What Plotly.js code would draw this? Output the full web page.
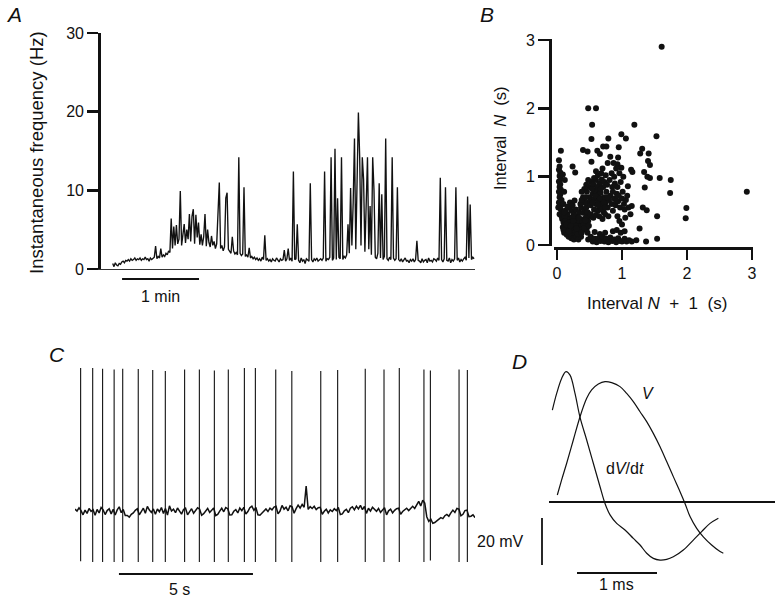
<!DOCTYPE html>
<html>
<head>
<meta charset="utf-8">
<script src="https://cdn.plot.ly/plotly-3.0.1.min.js"></script>
<style>html,body{margin:0;padding:0;background:#fff}#chart{width:779px;height:602px}</style>
</head>
<body>
<div id="chart"></div>
<script>
// ---------- Panel A: instantaneous frequency (Hz), one sample per second from t = 9 s ----------
const freqStartA = 9;
const freqStepA = 1;
const freqA = [
  0.7,0.3,0.8,0.5,0.4,0.7,0.6,0.9,1.0,0.8,1.1,
  1.0,1.2,1.0,1.3,1.1,1.2,1.4,1.1,1.3,1.2,
  1.4,1.1,1.3,1.2,1.5,1.2,1.3,1.0,1.4,1.2,
  1.3,1.5,2.9,1.3,1.6,1.4,2.6,1.5,1.8,1.6,
  2.0,1.8,2.3,2.1,6.4,2.6,5.4,3.0,5.6,3.2,
  3.8,9.9,3.0,4.2,5.7,3.3,5.0,3.8,7.0,3.5,
  6.7,7.6,3.2,6.9,4.0,5.9,3.1,4.4,3.0,4.1,
  7.0,2.9,5.0,3.4,2.8,4.2,3.0,3.5,2.6,3.2,
  7.3,11.0,2.6,3.0,2.3,2.8,9.0,9.7,2.5,2.2,
  2.0,4.1,2.3,1.9,2.1,1.8,14.2,2.0,1.7,1.9,
  10.4,1.6,1.8,1.5,2.7,1.4,1.6,1.3,1.5,1.2,
  1.4,1.1,1.3,1.0,1.5,1.2,4.3,1.1,1.3,1.0,
  1.2,0.9,1.3,1.1,1.0,1.4,1.2,0.9,1.3,1.1,
  1.2,2.4,1.0,1.3,2.6,1.1,1.4,1.0,12.4,1.2,
  1.3,5.7,1.1,0.8,1.4,1.0,1.2,0.7,1.3,1.1,
  1.0,10.9,1.2,0.9,1.3,1.1,1.4,1.0,1.2,1.3,
  1.1,1.4,12.4,1.0,1.3,1.2,1.5,14.2,1.1,1.4,
  15.3,1.2,9.0,1.5,1.3,14.2,1.2,1.6,1.4,1.8,
  5.7,2.0,10.3,3.0,8.5,16.6,2.5,9.8,19.9,14.2,
  3.0,14.2,11.4,2.2,9.0,14.2,2.5,8.0,1.8,14.2,
  10.0,1.5,1.3,2.0,10.9,1.4,9.5,1.2,1.6,16.6,
  1.3,1.1,1.5,1.2,14.2,1.4,1.1,1.3,10.4,1.2,
  1.0,1.3,0.9,1.2,1.4,1.0,1.1,0.8,1.2,1.0,
  1.3,0.9,1.2,3.6,1.1,1.0,0.8,1.3,0.9,1.1,
  1.2,0.8,1.4,1.0,1.1,0.9,1.3,1.2,1.0,1.4,
  1.1,11.6,1.2,0.9,1.3,10.4,1.1,1.0,1.4,0.8,
  1.2,1.0,1.3,10.4,1.1,1.4,0.9,1.2,1.0,1.3,
  1.5,1.1,9.2,1.4,8.2,1.2,1.5,1.3
];
const freqTicksA = [0, 10, 20, 30];

// ---------- Panel B: [interval N+1 (s), interval N (s)] ----------
const intervalPairs = [
  [1.61,2.90],[2.92,0.78],[1.99,0.54],[1.98,0.39],[1.75,0.95],[1.74,0.76],[1.58,0.98],[1.54,0.42],[1.54,0.09],
  [1.53,1.59],[1.19,1.76],[0.99,1.62],[1.06,1.56],[0.48,2.0],[0.60,2.0],[0.54,1.76],[0.53,1.55],[0.40,1.39],
  [0.47,1.37],[0.62,1.38],[0.66,1.33],[0.71,1.44],[0.76,1.44],[0.79,1.56],[0.95,1.43],[0.94,1.28],[0.82,1.29],
  [1.31,1.41],[1.28,1.34],[1.41,1.34],[1.43,1.17],[1.34,1.07],[1.39,1.0],[1.35,0.84],[1.43,0.98],[1.16,1.07],
  [1.09,0.86],[1.15,0.57],[1.32,0.55],[1.38,0.51],[1.27,0.24],[1.22,0.07],[1.37,0.05],[0.06,1.38],[0.53,1.22],
  [0.78,1.20],[0.93,1.18],[1.40,1.23],[1.14,1.10],[0.24,1.15],[0.28,1.06],[0.87,1.20],[0.99,1.13],[0.91,1.12],
  [0.03,1.24],[0.04,1.15],[0.03,1.10],[0.05,1.06],[0.04,1.01],[0.06,0.97],[0.03,0.93],[0.05,0.89],[0.04,0.85],
  [0.06,0.81],[0.03,0.78],[0.05,0.74],[0.04,0.70],[0.07,0.66],[0.03,0.62],[0.05,0.58],[0.02,0.55],[0.06,0.52],
  [0.08,0.48],[0.04,0.45],[0.07,0.42],[0.10,0.60],[0.11,0.78],[0.12,0.95],[0.09,1.03],
  [0.08,0.38],[0.10,0.33],[0.12,0.28],[0.14,0.22],[0.11,0.18],[0.15,0.15],[0.17,0.30],[0.19,0.25],[0.20,0.40],
  [0.22,0.33],[0.24,0.28],[0.21,0.20],[0.25,0.15],[0.27,0.22],[0.28,0.36],[0.30,0.30],[0.31,0.42],[0.33,0.25],
  [0.35,0.18],[0.36,0.34],[0.38,0.28],[0.40,0.22],[0.42,0.38],[0.44,0.30],[0.46,0.25],[0.48,0.35],[0.50,0.42],
  [0.16,0.45],[0.13,0.50],[0.18,0.55],[0.22,0.50],[0.26,0.45],[0.29,0.52],[0.34,0.48],[0.37,0.55],[0.40,0.47],
  [0.43,0.52],[0.15,0.38],[0.18,0.12],[0.22,0.10],[0.26,0.08],[0.30,0.12],[0.33,0.08],[0.37,0.12],[0.12,0.42],
  [0.09,0.26],[0.13,0.35],[0.16,0.27],[0.19,0.33],[0.23,0.24],[0.26,0.31],[0.29,0.20],[0.32,0.35],[0.35,0.27],
  [0.39,0.35],[0.41,0.29],[0.45,0.42],[0.47,0.18],[0.24,0.40],[0.20,0.17],[0.28,0.28],[0.32,0.16],[0.36,0.22],
  [0.10,0.22],[0.14,0.30],[0.18,0.20],[0.21,0.28],[0.25,0.35],[0.30,0.24],[0.34,0.40],[0.38,0.18],[0.42,0.25],
  [0.44,0.36],[0.49,0.28],[0.11,0.48],[0.16,0.56],[0.20,0.62],[0.24,0.58],[0.27,0.65],
  [0.45,0.55],[0.48,0.62],[0.50,0.70],[0.52,0.58],[0.54,0.65],[0.55,0.75],[0.57,0.52],[0.58,0.68],[0.60,0.60],
  [0.61,0.80],[0.62,0.72],[0.63,0.50],[0.64,0.64],[0.66,0.56],[0.67,0.76],[0.68,0.68],[0.70,0.60],[0.71,0.85],
  [0.72,0.48],[0.73,0.70],[0.75,0.62],[0.76,0.78],[0.78,0.55],[0.80,0.66],[0.82,0.72],[0.84,0.60],[0.86,0.50],
  [0.88,0.68],[0.90,0.58],[0.92,0.75],[0.94,0.64],[0.97,0.55],[1.00,0.68],[1.03,0.60],[1.06,0.66],[1.10,0.55],
  [0.42,0.62],[0.40,0.70],[0.46,0.78],[0.50,0.85],[0.53,0.92],[0.56,0.88],[0.60,0.95],[0.65,0.90],[0.69,0.96],
  [0.73,0.92],[0.77,0.88],[0.81,0.95],[0.85,0.85],[0.89,0.90],[0.93,0.85],[0.98,0.92],[0.36,0.60],[0.38,0.66],
  [0.44,0.70],[0.47,0.48],[0.52,0.45],[0.56,0.40],[0.60,0.44],[0.65,0.42],[0.70,0.38],[0.74,0.45],[0.79,0.42],
  [0.55,0.62],[0.59,0.72],[0.63,0.58],[0.66,0.68],[0.69,0.52],[0.72,0.62],[0.74,0.55],[0.77,0.70],[0.62,0.85],
  [0.58,0.80],[0.54,0.82],[0.67,0.82],[0.86,0.78],[0.91,0.65],[0.95,0.72],[1.01,0.78],[1.04,0.52],[1.08,0.72],
  [0.57,0.98],[0.63,1.02],[0.68,1.05],[0.60,1.08],[0.75,1.02],[0.70,1.12],[0.84,1.05],[0.96,1.05],[1.02,1.00],
  [0.88,1.0],[0.45,0.88],[0.48,0.95],[0.42,0.82],[0.38,0.78],
  [0.48,0.08],[0.52,0.12],[0.55,0.05],[0.58,0.09],[0.61,0.04],[0.64,0.10],[0.67,0.06],[0.70,0.12],[0.73,0.05],
  [0.76,0.09],[0.79,0.04],[0.82,0.11],[0.85,0.06],[0.88,0.08],[0.91,0.04],[0.94,0.10],[0.97,0.06],[1.00,0.05],
  [1.04,0.09],[1.07,0.05],[1.11,0.07],[1.15,0.05],[0.86,0.20],[0.92,0.22],[0.98,0.18],[1.04,0.20],[0.74,0.18],
  [0.66,0.16],[0.58,0.19],[0.96,0.35],[1.00,0.30],[0.93,0.42],[1.05,0.40],[1.13,0.45]
];
const intervalTicksB = [0, 1, 2, 3];

// ---------- Panel C: membrane voltage (mV, relative) ----------
// baseline noise, 0.075 s per sample
const voltStartC = 0;
const voltStepC = 0.075;
const voltC = [
  1.2,0.4,1.8,0.6,-1.2,0.8,-0.6,1.5,0.3,1.0,
  -1.4,1.1,-0.4,1.9,0.9,-1.1,0.6,1.4,-0.8,1.2,
  -1.3,0.9,2.2,-0.3,1.1,-1.5,-1.5,-2.2,-1.0,-0.4,
  0.7,1.4,-1.2,0.2,1.6,-0.5,2.4,0.8,-0.2,1.3,
  -1.0,1.3,0.1,1.9,-0.6,1.5,-1.3,2.6,0.4,1.2,
  -0.3,1.7,0.5,-0.9,1.1,1.6,-1.2,0.3,1.4,-0.5,
  0.9,1.8,1.2,-1.4,-0.7,0.6,1.5,-0.2,0.8,1.7,
  -1.5,-1.0,0.4,1.6,0.1,1.9,1.4,-1.3,-1.2,0.3,
  1.0,-0.4,1.7,0.6,2.0,-0.9,0.2,1.8,2.5,0.7,
  1.9,-1.2,-1.4,-0.6,0.5,1.3,0.2,1.6,0.9,2.1,
  2.4,-0.8,0.4,2.8,1.2,2.0,0.5,2.6,2.2,-0.5,
  1.4,2.9,1.7,3.2,2.0,11.0,1.1,2.3,1.5,2.4,
  1.0,1.8,2.0,-1.0,0.3,1.2,-0.4,0.9,0.2,1.4,
  0.6,1.9,-1.1,-0.8,0.5,1.1,-0.3,1.6,2.2,0.9,
  2.5,1.3,2.8,1.0,2.4,-0.6,1.6,0.4,2.0,1.1,
  0.3,1.5,-0.2,0.8,1.8,-1.2,0.5,1.2,-0.4,0.7,
  1.4,1.6,-1.0,0.2,0.9,1.6,0.6,1.3,2.4,1.5,
  3.2,4.5,2.6,5.0,3.8,-2.0,-4.0,-3.0,-4.8,-4.5,
  -3.8,-3.2,-2.4,-2.8,-1.6,-1.0,-1.8,-0.4,0.8,-0.2,
  1.5,1.2,-1.6,-1.0,0.6,0.8,-2.0,-1.8,-1.2,-2.4
];
// action potentials: time (s), peak and trough (mV)
const spikeTimesC = [0.21,0.66,1.03,1.46,1.78,2.36,2.90,3.37,4.09,4.64,5.20,5.72,6.32,6.73,7.49,8.09,9.17,9.80,10.83,11.53,12.10,13.02,13.26,14.33,14.64];
const spikePeaksC = [61.3,61.3,61.0,60.6,61.0,60.8,60.4,60.0,60.6,60.6,60.2,60.6,61.3,61.3,60.6,60.0,60.0,60.4,61.0,60.6,61.3,60.6,60.2,60.6,60.4];
const spikeTroughsC = [-21.0,-21.3,-21.3,-21.3,-21.3,-21.3,-21.3,-21.3,-21.3,-21.3,-21.3,-21.3,-21.3,-21.3,-21.3,-21.3,-21.3,-21.3,-21.3,-21.3,-21.3,-21.3,-20.6,-21.3,-21.3];

// ---------- Panel D: action potential V and dV/dt (time in ms, amplitude in mV scale) ----------
const timeV = [0.104,0.158,0.221,0.304,0.388,0.471,0.533,0.617,0.700,0.783,0.888,0.971,1.054,1.138,1.221,1.304,1.388,1.471,1.554,1.638,1.700,1.763,1.846,1.929,2.033,2.138,2.179];
const valueV = [3.0,9.4,16.5,26.4,36.3,44.1,47.7,50.2,51.2,50.8,49.1,46.2,42.7,38.4,34.2,29.2,23.5,17.2,10.8,4.4,-0.6,-6.2,-11.2,-14.8,-18.3,-21.1,-21.8];
const timeDVDT = [0.042,0.096,0.158,0.213,0.263,0.325,0.388,0.471,0.554,0.638,0.700,0.763,0.846,0.950,1.054,1.138,1.221,1.304,1.388,1.471,1.554,1.679,1.804,1.908,2.013,2.117];
const valueDVDT = [39.1,46.2,52.6,55.5,54.0,46.2,36.0,26.4,16.5,6.5,-0.6,-5.5,-9.1,-11.9,-15.5,-18.3,-21.8,-24.0,-24.7,-24.4,-23.3,-20.4,-16.2,-12.6,-9.1,-6.9];

// ---------- layout helpers (pixel -> paper) ----------
const W = 779, H = 602;
const fx = p => p / W;
const fy = p => 1 - p / H;
const FONT = 'Liberation Sans, Arial, Helvetica, sans-serif';
const INK = '#111';

// vertical segments for spikes (trough -> peak at each spike time)
const spikeX = spikeTimesC.flatMap(t => [t, t, null]);
const spikeY = spikeTimesC.flatMap((t, i) => [spikeTroughsC[i], spikePeaksC[i], null]);

const traces = [
  { type:'scatter', mode:'lines', x0:freqStartA, dx:freqStepA, y:freqA,
    xaxis:'x', yaxis:'y', line:{color:INK, width:1.35}, hoverinfo:'skip' },
  { type:'scatter', mode:'markers', x:intervalPairs.map(p=>p[0]), y:intervalPairs.map(p=>p[1]),
    xaxis:'x2', yaxis:'y2', marker:{color:INK, size:6}, cliponaxis:false, hoverinfo:'skip' },
  { type:'scatter', mode:'lines', x0:voltStartC, dx:voltStepC, y:voltC,
    xaxis:'x3', yaxis:'y3', line:{color:INK, width:1.5}, hoverinfo:'skip' },
  { type:'scatter', mode:'lines', x:spikeX, y:spikeY, connectgaps:false,
    xaxis:'x3', yaxis:'y3', line:{color:INK, width:1.1}, hoverinfo:'skip' },
  { type:'scatter', mode:'lines', x:timeV, y:valueV, xaxis:'x4', yaxis:'y4',
    line:{color:INK, width:1.2, shape:'spline', smoothing:1}, hoverinfo:'skip' },
  { type:'scatter', mode:'lines', x:timeDVDT, y:valueDVDT, xaxis:'x4', yaxis:'y4',
    line:{color:INK, width:1.2, shape:'spline', smoothing:1}, hoverinfo:'skip' }
];

const hidden = { visible:false };
const txt = (t, x, y, size, extra) => Object.assign({
  text:t, x:fx(x), y:fy(y), xref:'paper', yref:'paper', showarrow:false,
  xanchor:'center', yanchor:'middle', font:{family:FONT, size:size, color:INK}
}, extra || {});

const layout = {
  width:W, height:H, margin:{l:0,r:0,t:0,b:0},
  paper_bgcolor:'#fff', plot_bgcolor:'rgba(0,0,0,0)', showlegend:false,
  font:{family:FONT, size:16, color:INK},
  // Panel A
  xaxis:{ domain:[fx(101), fx(475)], range:[0, 287.7], anchor:'y',
    showline:true, linewidth:1, linecolor:'#333', ticks:'', showticklabels:false,
    showgrid:false, zeroline:false, fixedrange:true },
  yaxis:{ domain:[fy(269), fy(33)], range:[0, 30], anchor:'x', tickvals:freqTicksA,
    showline:true, linewidth:2.8, linecolor:INK, ticks:'outside', ticklen:11, tickwidth:2.8, tickcolor:INK,
    tickfont:{size:16, family:FONT}, showgrid:false, zeroline:false, fixedrange:true },
  // Panel B
  xaxis2:{ domain:[fx(554), fx(753)], range:[-0.046, 3.015], anchor:'free', position:fy(248),
    tickvals:intervalTicksB, showline:true, linewidth:2.8, linecolor:INK,
    ticks:'outside', ticklen:10, tickwidth:2.8, tickcolor:INK, tickfont:{size:16, family:FONT},
    showgrid:false, zeroline:false, fixedrange:true },
  yaxis2:{ domain:[fy(246), fy(39)], range:[-0.015, 3.015], anchor:'free', position:fx(550),
    tickvals:intervalTicksB, showline:true, linewidth:2.8, linecolor:INK,
    ticks:'outside', ticklen:11, tickwidth:2.8, tickcolor:INK, tickfont:{size:16, family:FONT},
    showgrid:false, zeroline:false, fixedrange:true },
  // Panel C
  xaxis3:Object.assign({ domain:[fx(75), fx(475)], range:[0, 14.925], anchor:'y3' }, hidden),
  yaxis3:Object.assign({ domain:[fy(600), fy(360)], range:[-37.45, 64.68], anchor:'x3' }, hidden),
  // Panel D
  xaxis4:{ domain:[fx(549), fx(775)], range:[0, 2.825], anchor:'y4', showline:false, ticks:'',
    showticklabels:false, showgrid:false, zeroline:false, fixedrange:true },
  yaxis4:{ domain:[fy(580), fy(360)], range:[-33.19, 60.43], anchor:'x4', showline:false, ticks:'',
    showticklabels:false, showgrid:false, zeroline:true, zerolinecolor:INK, zerolinewidth:1.2, fixedrange:true },
  shapes:[
    { type:'line', xref:'x', yref:'paper', x0:16.2, x1:75.4, y0:fy(279), y1:fy(279), line:{color:INK, width:1.8} },
    { type:'line', xref:'x3', yref:'paper', x0:1.64, x1:6.64, y0:fy(574), y1:fy(574), line:{color:INK, width:1.8} },
    { type:'line', xref:'paper', yref:'y4', x0:fx(542), x1:fx(542), y0:-6.8, y1:-26.8, line:{color:INK, width:1.8} },
    { type:'line', xref:'x4', yref:'paper', x0:0.35, x1:1.35, y0:fy(573), y1:fy(573), line:{color:INK, width:1.8} }
  ],
  annotations:[
    txt('<i>A</i>', 14, 15, 21),
    txt('<i>B</i>', 487, 15, 21),
    txt('<i>C</i>', 57, 354, 21),
    txt('<i>D</i>', 519, 361, 21),
    txt('Instantaneous frequency (Hz)', 37, 153, 18.5, {textangle:-90}),
    txt('Interval\u00a0\u00a0<i>N</i>\u00a0 (s)', 500, 138, 16.5, {textangle:-90}),
    txt('Interval <i>N</i>\u00a0 + \u00a01\u00a0 (s)', 657, 303, 17),
    txt('1 min', 160, 296, 16),
    txt('5 s', 179, 589, 16),
    txt('20 mV', 500, 541, 16),
    txt('1 ms', 616, 584, 16),
    txt('<i>V</i>', 648, 393, 16),
    txt('d<i>V</i>/d<i>t</i>', 625, 468, 16)
  ]
};

Plotly.newPlot('chart', traces, layout, {staticPlot:true, displayModeBar:false});
</script>
</body>
</html>
